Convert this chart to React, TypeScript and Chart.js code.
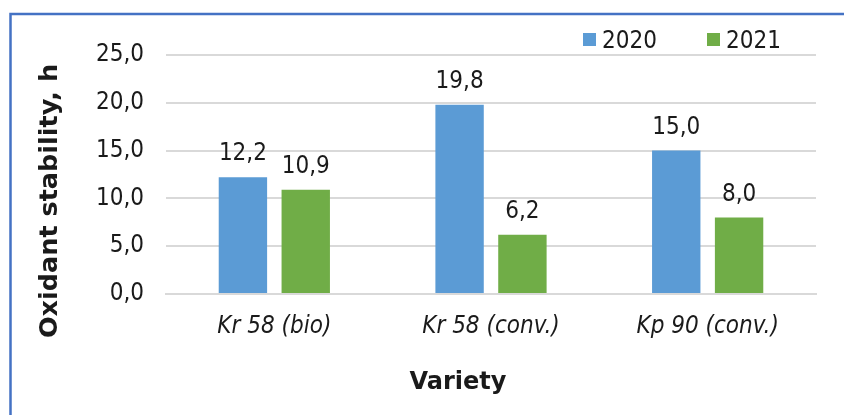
import React, { useEffect, useRef } from 'react';
import { Chart, registerables } from 'chart.js';

Chart.register(...registerables);

const categories = ['Kr 58 (bio)', 'Kr 58 (conv.)', 'Kp 90 (conv.)'];
const seriesLabels = ['2020', '2021'];
const values2020 = [12.2, 19.8, 15.0];
const values2021 = [10.9, 6.2, 8.0];
const seriesColors = ['#5B9BD5', '#70AD47'];
const yMin = 0;
const yMax = 25;
const yStep = 5;
const yTitle = 'Oxidant stability, h';
const xTitle = 'Variety';

const REG = "'DejaVu Sans Condensed', 'DejaVu Sans', sans-serif";
const BOLD = "'DejaVu Sans', sans-serif";
const TEXT = '#1a1a1a';

const fmt = (v: number) => v.toFixed(1).replace('.', ',');

const decorPlugin = {
  id: 'decor',
  beforeDraw(chart: any) {
    const ctx = chart.ctx;
    ctx.save();
    ctx.fillStyle = '#ffffff';
    ctx.fillRect(0, 0, chart.width, chart.height);
    ctx.restore();
  },
  afterDatasetsDraw(chart: any) {
    const ctx = chart.ctx;
    ctx.save();
    ctx.font = `24px ${REG}`;
    ctx.fillStyle = TEXT;
    ctx.textAlign = 'center';
    ctx.textBaseline = 'alphabetic';
    chart.data.datasets.forEach((ds: any, i: number) => {
      const meta = chart.getDatasetMeta(i);
      meta.data.forEach((el: any, j: number) => {
        ctx.fillText(fmt(ds.data[j]), el.x, el.y - 17);
      });
    });
    ctx.restore();
  },
  afterDraw(chart: any) {
    const ctx = chart.ctx;
    ctx.save();
    // frame
    ctx.strokeStyle = '#4472C4';
    ctx.lineWidth = 2.5;
    ctx.strokeRect(10.5, 14, 900, 500);

    // legend
    const legendX = [583, 707];
    chart.data.datasets.forEach((ds: any, i: number) => {
      ctx.fillStyle = ds.backgroundColor;
      ctx.fillRect(legendX[i], 33, 13, 13);
      ctx.fillStyle = TEXT;
      ctx.font = `24px ${REG}`;
      ctx.textAlign = 'left';
      ctx.textBaseline = 'alphabetic';
      ctx.fillText(ds.label, legendX[i] + 19, 48);
    });

    // x title
    ctx.fillStyle = TEXT;
    ctx.font = `bold 24px ${BOLD}`;
    ctx.textAlign = 'center';
    ctx.textBaseline = 'alphabetic';
    ctx.fillText(xTitle, 458, 389);

    // y title
    ctx.translate(57, 201);
    ctx.rotate(-Math.PI / 2);
    ctx.font = `bold 25.5px ${BOLD}`;
    ctx.fillText(yTitle, 0, 0);
    ctx.restore();
  },
};

export default function App() {
  const ref = useRef<HTMLCanvasElement | null>(null);
  useEffect(() => {
    if (!ref.current) return;
    const chart = new Chart(ref.current, {
      type: 'bar',
      data: {
        labels: categories,
        datasets: [
          { label: seriesLabels[0], data: values2020, backgroundColor: seriesColors[0], barPercentage: 0.77, categoryPercentage: 0.58 },
          { label: seriesLabels[1], data: values2021, backgroundColor: seriesColors[1], barPercentage: 0.77, categoryPercentage: 0.58 },
        ],
      },
      options: {
        responsive: false,
        animation: false,
        devicePixelRatio: 1,
        layout: { padding: { top: 55, right: 28, left: 0, bottom: 0 } },
        plugins: {
          legend: { display: false },
          tooltip: { enabled: false },
          title: { display: false },
        },
        scales: {
          x: {
            grid: { display: false, drawTicks: false },
            border: { display: true, color: '#D9D9D9', width: 2 },
            ticks: {
              padding: 18,
              color: TEXT,
              font: { family: REG, size: 24, style: 'italic' },
              maxRotation: 0,
              autoSkip: false,
            },
            afterFit(scale: any) { scale.height = 121; },
          },
          y: {
            min: yMin,
            max: yMax,
            grid: { color: '#D9D9D9', lineWidth: 2, drawTicks: false },
            border: { display: false },
            ticks: {
              stepSize: yStep,
              padding: 22,
              color: TEXT,
              font: { family: REG, size: 24 },
              callback: (v: any) => fmt(Number(v)),
            },
            afterFit(scale: any) { scale.width = 166; },
          },
        },
      },
      plugins: [decorPlugin],
    });
    return () => chart.destroy();
  }, []);
  return (
    <div style={{ position: 'absolute', left: 0, top: 0, width: 844, height: 415 }}>
      <canvas ref={ref} width={844} height={415} style={{ display: 'block' }} />
    </div>
  );
}
